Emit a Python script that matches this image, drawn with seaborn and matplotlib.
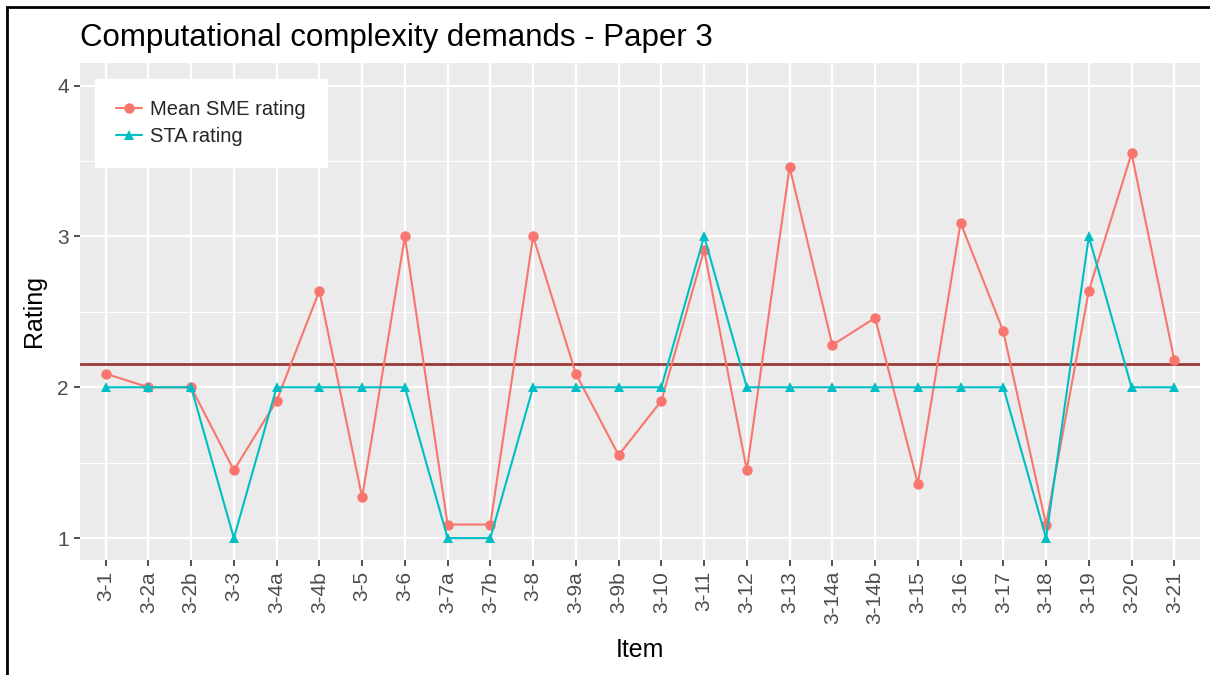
import numpy as np
import pandas as pd
import seaborn as sns
import matplotlib.pyplot as plt
from matplotlib.patches import Rectangle

items = ["3-1", "3-2a", "3-2b", "3-3", "3-4a", "3-4b", "3-5", "3-6", "3-7a", "3-7b",
         "3-8", "3-9a", "3-9b", "3-10", "3-11", "3-12", "3-13", "3-14a", "3-14b",
         "3-15", "3-16", "3-17", "3-18", "3-19", "3-20", "3-21"]
sme_rating = [2.09, 2.00, 2.00, 1.45, 1.91, 2.64, 1.27, 3.00, 1.09, 1.09,
              3.00, 2.09, 1.55, 1.91, 2.91, 1.45, 3.46, 2.28, 2.46,
              1.36, 3.09, 2.37, 1.09, 2.64, 3.55, 2.18]
sta_rating = [2, 2, 2, 1, 2, 2, 2, 2, 1, 1,
              2, 2, 2, 2, 3, 2, 2, 2, 2,
              2, 2, 2, 1, 3, 2, 2]
series_names = ["Mean SME rating", "STA rating"]
series_colors = ["#F8766D", "#00BFC4"]


def main():
    df = pd.DataFrame({
        "Item": items * 2,
        "Rating": sme_rating + sta_rating,
        "series": [series_names[0]] * len(items) + [series_names[1]] * len(items),
    })

    sns.set_theme(style="darkgrid", rc={
        "axes.facecolor": "#EBEBEB",
        "grid.color": "white",
        "axes.edgecolor": "#EBEBEB",
    })
    plt.rcParams["font.family"] = ["Liberation Sans", "DejaVu Sans"]

    fig = plt.figure(figsize=(12.1, 6.75), dpi=100)
    ax = fig.add_axes([0.0661, 0.1704, 0.9256, 0.7363])

    sns.lineplot(data=df, x="Item", y="Rating", hue="series", style="series",
                 markers=["o", "^"], dashes=False, palette=series_colors,
                 markersize=7.5, markeredgewidth=0, linewidth=1.5, sort=False, ax=ax)

    # mean of SME ratings
    ax.axhline(np.mean(sme_rating), color="#8B1A1A", alpha=0.85, linewidth=2, zorder=1)

    ax.set_xlim(-0.6, len(items) - 0.4)
    ax.set_ylim(0.855, 4.15)
    ax.set_yticks([1, 2, 3, 4])
    ax.set_yticks([1.5, 2.5, 3.5], minor=True)
    ax.grid(which="major", color="white", linewidth=1.6)
    ax.grid(which="minor", axis="y", color="white", linewidth=0.7)
    ax.tick_params(axis="both", which="major", length=4, width=1.2, color="#333333",
                   labelsize=15, labelcolor="#4D4D4D", bottom=True, left=True, pad=4)
    ax.tick_params(axis="y", which="minor", length=0)
    ax.tick_params(axis="x", labelrotation=90)
    for s in ax.spines.values():
        s.set_visible(False)

    ax.set_xlabel("Item", fontsize=18, color="black", labelpad=10)
    ax.set_ylabel("Rating", fontsize=18, color="black", labelpad=8)
    ax.set_title("Computational complexity demands - Paper 3", fontsize=22.5,
                 loc="left", x=0.0, pad=12, color="black")

    leg = ax.legend(loc="upper left", bbox_to_anchor=(0.0134, 0.968), fontsize=14.5,
                    frameon=True, fancybox=False, framealpha=1, edgecolor="white",
                    handlelength=1.3, handletextpad=0.4, borderpad=1.05,
                    borderaxespad=0, labelspacing=0.4)
    leg.get_frame().set_facecolor("white")

    # border around the picture (top and left edges visible)
    fig.patches.append(Rectangle((0.006, -0.05), 1.05, 1.04, transform=fig.transFigure,
                                 fill=False, edgecolor="black", linewidth=2))

    fig.savefig("out.png", dpi=100)


if __name__ == "__main__":
    main()
